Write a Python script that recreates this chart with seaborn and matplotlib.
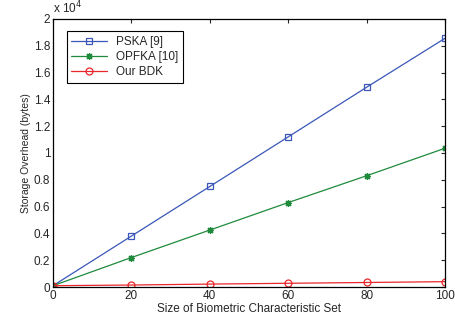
import seaborn as sns
import matplotlib.pyplot as plt
from matplotlib.ticker import FuncFormatter

set_size = [0, 20, 40, 60, 80, 100]
pska = [100, 3800, 7500, 11200, 14900, 18550]
opfka = [100, 2200, 4250, 6300, 8300, 10350]
bdk = [100, 150, 220, 280, 340, 400]

sns.set_style("white")
plt.rcParams['font.family'] = ['Liberation Sans', 'DejaVu Sans']

fig = plt.figure(figsize=(4.55, 3.2), dpi=100)
ax = fig.add_axes([0.1165, 0.103, 0.8615, 0.838])

sns.lineplot(x=set_size, y=pska, ax=ax, label='PSKA [9]', color='#3a56b8',
             marker='s', markersize=4.5, markerfacecolor='none',
             markeredgecolor='#3a56b8', markeredgewidth=0.9, linewidth=0.9)
sns.lineplot(x=set_size, y=opfka, ax=ax, label='OPFKA [10]', color='#1f8a3c',
             marker=(8, 2, 0), markersize=5, markeredgecolor='#1f8a3c',
             markeredgewidth=0.9, linewidth=0.9)
sns.lineplot(x=set_size, y=bdk, ax=ax, label='Our BDK', color='#e8262b',
             marker='o', markersize=5, markerfacecolor='none',
             markeredgecolor='#e8262b', markeredgewidth=0.9, linewidth=0.9)

ax.set_xlim(0, 100)
ax.set_ylim(0, 20000)
ax.set_xticks([0, 20, 40, 60, 80, 100])
ax.set_yticks([i * 2000 for i in range(11)])
ax.yaxis.set_major_formatter(FuncFormatter(lambda v, p: '%g' % round(v / 1e4, 1)))
ax.tick_params(direction='in', length=3, width=0.8, labelsize=8.5,
               top=True, right=True, pad=2)
for s in ax.spines.values():
    s.set_color('black')
    s.set_linewidth(0.9)

ax.text(0.0, 1.01, r'x 10$^4$', transform=ax.transAxes, fontsize=8.5,
        ha='left', va='bottom')
ax.set_xlabel('Size of Biometric Characteristic Set', fontsize=8.5, labelpad=1)
ax.set_ylabel('Storage Overhead (bytes)', fontsize=7.5, labelpad=2)

leg = ax.legend(loc='upper left', bbox_to_anchor=(0.02, 0.975), fontsize=8.5,
                fancybox=False, edgecolor='black', framealpha=1,
                handlelength=3, borderpad=0.4, labelspacing=0.25)
leg.get_frame().set_linewidth(0.8)

plt.savefig('out.png', dpi=100)
plt.close()
